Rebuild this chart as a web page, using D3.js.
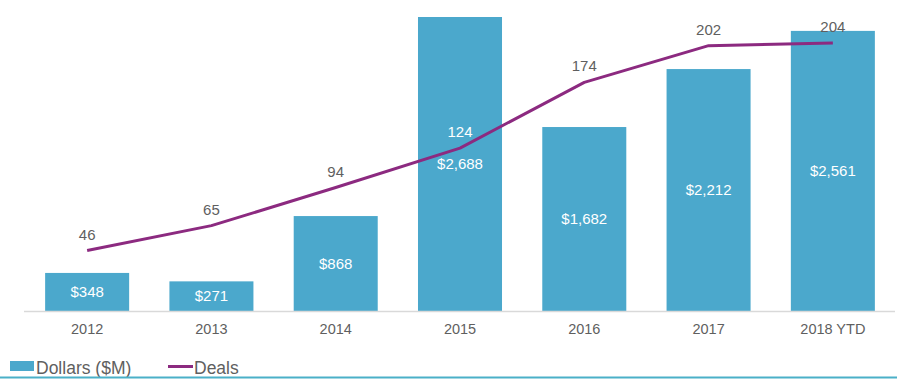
<!DOCTYPE html>
<html><head><meta charset="utf-8">
<script src="https://cdn.jsdelivr.net/npm/d3@7"></script>
<style>body{margin:0;background:#fff}svg{display:block;font-family:"Liberation Sans",Arial,sans-serif}</style>
</head><body><svg id="c" width="897" height="379"></svg>
<script>
const categories = ["2012","2013","2014","2015","2016","2017","2018 YTD"];
const dollars = [348,271,868,2688,1682,2212,2561];
const dollarLabels = ["$348","$271","$868","$2,688","$1,682","$2,212","$2,561"];
const deals = [46,65,94,124,174,202,204];
const seriesNames = ["Dollars ($M)","Deals"];

const svg = d3.select("#c");
const W = 897, H = 379;
const base = 311;
const barColor = "#4ba8cc", lineColor = "#8c2a80", textGrey = "#5f5f5f";

const x = d3.scaleBand().domain(categories).range([25,895]).paddingInner(0.324).paddingOuter(0.162);
const y = d3.scaleLinear().domain([0,2688]).range([base,17]);
const y2 = d3.scaleLinear().domain([0,204]).range([base,43]);

// bars
svg.append("g").selectAll("rect").data(categories).join("rect")
  .attr("x", d=>x(d)).attr("width", x.bandwidth())
  .attr("y", (d,i)=>y(dollars[i])).attr("height",(d,i)=>base-y(dollars[i]))
  .attr("fill", barColor);

// axis
const ax = svg.append("g").attr("transform",`translate(0,${base})`)
  .call(d3.axisBottom(x).tickSize(0).tickPadding(13));
ax.select(".domain").attr("stroke","#d9d9d9").attr("stroke-width",1.5).attr("d","M24,0.5H895");
ax.selectAll("text").attr("fill",textGrey).style("font-size","14.5px").style("font-family","Liberation Sans, Arial, sans-serif");

// bar labels
svg.append("g").selectAll("text").data(categories).join("text")
  .attr("x", d=>x(d)+x.bandwidth()/2)
  .attr("y", (d,i)=>(y(dollars[i])+base)/2)
  .attr("dy","0.35em").attr("text-anchor","middle")
  .attr("fill","#fff").style("font-size","15px")
  .text((d,i)=>dollarLabels[i]);

// line
const line = d3.line().x((d,i)=>x(categories[i])+x.bandwidth()/2).y(d=>y2(d));
svg.append("path").datum(deals).attr("d",line)
  .attr("fill","none").attr("stroke",lineColor).attr("stroke-width",3).attr("stroke-linejoin","round");

// deal labels
svg.append("g").selectAll("text").data(deals).join("text")
  .attr("x",(d,i)=>x(categories[i])+x.bandwidth()/2)
  .attr("y",d=>y2(d)-11)
  .attr("text-anchor","middle")
  .attr("fill",(d,i)=>i===3?"#fff":textGrey)
  .style("font-size","15px")
  .text(d=>d);

// legend
const lg = svg.append("g");
lg.append("rect").attr("x",10).attr("y",361).attr("width",24).attr("height",10).attr("fill",barColor);
lg.append("text").attr("x",36).attr("y",373.5).attr("fill",textGrey).style("font-size","17.5px").text(seriesNames[0]);
lg.append("line").attr("x1",168).attr("x2",193).attr("y1",366.5).attr("y2",366.5).attr("stroke",lineColor).attr("stroke-width",3);
lg.append("text").attr("x",194).attr("y",373.5).attr("fill",textGrey).style("font-size","17.5px").text(seriesNames[1]);

// bottom rule
svg.append("line").attr("x1",0).attr("x2",W).attr("y1",377.5).attr("y2",377.5).attr("stroke","#4bb0c8").attr("stroke-width",2);
</script></body></html>
